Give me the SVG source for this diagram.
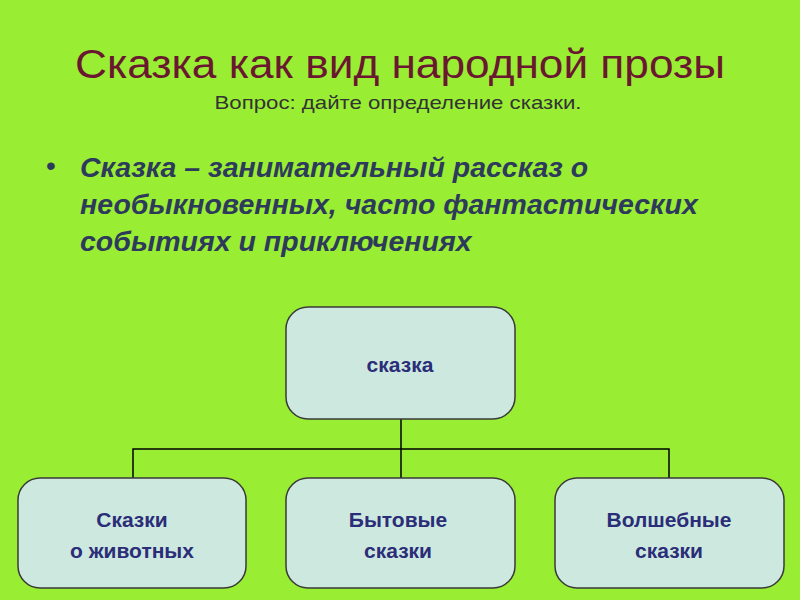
<svg xmlns="http://www.w3.org/2000/svg" width="800" height="600" viewBox="0 0 800 600">
<style>
.box{fill:#cde9df;stroke:#3a3a3a;stroke-width:1.5}
.bt{font-family:"Liberation Sans",Arial,sans-serif;font-weight:bold;font-size:21px;fill:#2b2d78;text-anchor:middle}
.def{font-family:"Liberation Sans",Arial,sans-serif;font-weight:bold;font-style:italic;font-size:28.5px;fill:#2e3a5c}
.conn{stroke:#000;stroke-width:1.5;fill:none}
</style>
<rect width="800" height="600" fill="#99ee33"/>
<text x="400" y="78" text-anchor="middle" font-family="'Liberation Sans',Arial,sans-serif" font-size="41" fill="#6a1830" textLength="650" lengthAdjust="spacingAndGlyphs">Сказка как вид народной прозы</text>
<text x="398" y="109" text-anchor="middle" font-family="'Liberation Sans',Arial,sans-serif" font-size="19" fill="#333" textLength="367" lengthAdjust="spacingAndGlyphs">Вопрос: дайте определение сказки.</text>
<text x="46" y="175" font-family="'Liberation Sans',Arial,sans-serif" font-size="28" fill="#2e3a5c">•</text>
<text class="def"><tspan x="80" y="177">Сказка – занимательный рассказ о</tspan><tspan x="80" y="214">необыкновенных, часто фантастических</tspan><tspan x="80" y="251">событиях и приключениях</tspan></text>
<g id="connectors">
<path class="conn" d="M401 419V449M133 478V449H669V478M401 449V478"/>
</g>
<g id="root"><rect class="box" x="286" y="307" width="229" height="112" rx="22"/><text class="bt" x="400" y="372">сказка</text></g>
<g id="animals"><rect class="box" x="18" y="478" width="228" height="110" rx="22"/><text class="bt" x="132" y="527">Сказки</text><text class="bt" x="132" y="558">о животных</text></g>
<g id="everyday"><rect class="box" x="286" y="478" width="229" height="110" rx="22"/><text class="bt" x="398" y="527">Бытовые</text><text class="bt" x="398" y="558">сказки</text></g>
<g id="magic"><rect class="box" x="555" y="478" width="229" height="110" rx="22"/><text class="bt" x="669" y="527">Волшебные</text><text class="bt" x="669" y="558">сказки</text></g>
</svg>
